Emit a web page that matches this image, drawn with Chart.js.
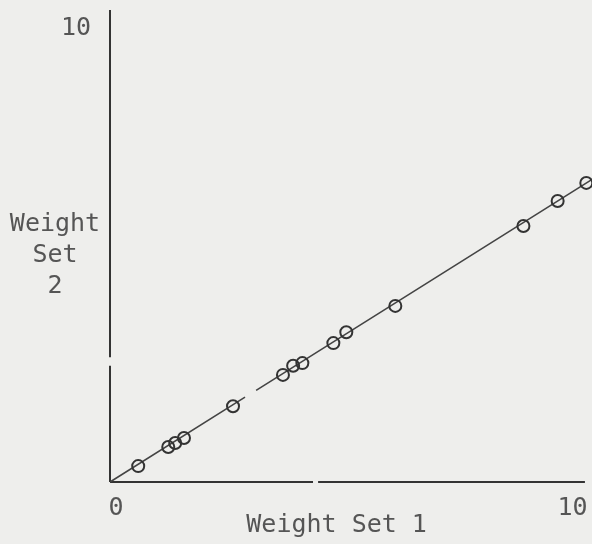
<!DOCTYPE html>
<html>
<head>
<meta charset="utf-8">
<script src="https://cdn.jsdelivr.net/npm/chart.js@4/dist/chart.umd.min.js"></script>
<style>
html,body{margin:0;padding:0;background:#eeeeec;}
#wrap{position:relative;width:592px;height:544px;}
</style>
</head>
<body>
<div id="wrap"><canvas id="c" width="592" height="544"></canvas></div>
<script>
// ---- data ----
const weightSet1 = [0.61, 1.26, 1.41, 1.60, 2.66, 3.74, 3.96, 4.16, 4.83, 5.11, 6.17, 8.94, 9.68, 10.30];
const weightSet2 = [0.35, 0.77, 0.86, 0.97, 1.67, 2.36, 2.56, 2.62, 3.06, 3.30, 3.88, 5.64, 6.19, 6.59];
// fitted line (with a break in the scanned print)
const lineX = [0, 2.92, null, 3.16, 10.40];
const lineY = [0, 1.87, null, 2.02, 6.65];
// axis lines (with the breaks seen in the scan)
const xAxisX = [0, 4.39, null, 4.50, 10.27];
const yAxisY = [0, 2.56, null, 2.75, 10.4];
const xTicks = [0, 10];
const yTicks = [10];
const xTitle = 'Weight Set 1';
const yTitleLines = ['Weight', 'Set', '2'];

const FONT = "'DejaVu Sans Mono', monospace";
const TXT = '#555555';
const INK = '#333333';

function pts(xs, ys) {
  return xs.map((x, i) => (x === null || ys[i] === null) ? {x: null, y: null} : {x: x, y: ys[i]});
}

// tick labels and axis titles drawn from the scales
const textPlugin = {
  id: 'texts',
  afterDraw(chart) {
    const ctx = chart.ctx;
    const xs = chart.scales.x, ys = chart.scales.y;
    ctx.save();
    ctx.fillStyle = TXT;
    ctx.font = '25px ' + FONT;
    ctx.textBaseline = 'middle';
    ctx.textAlign = 'center';
    xTicks.forEach(v => ctx.fillText(String(v), xs.getPixelForValue(v) + (v === 0 ? 6 : 0), ys.bottom + 26));
    ctx.textAlign = 'right';
    yTicks.forEach(v => ctx.fillText(String(v), xs.left - 19, ys.getPixelForValue(v)));
    ctx.textAlign = 'center';
    ctx.fillText(xTitle, xs.getPixelForValue(4.9), ys.bottom + 43);
    const cx = xs.left - 55;
    const cy = ys.getPixelForValue(5.0);
    yTitleLines.forEach((t, i) => ctx.fillText(t, cx, cy + (i - 1) * 31));
    ctx.restore();
  }
};

new Chart(document.getElementById('c'), {
  type: 'scatter',
  data: {
    datasets: [
      {
        label: 'points',
        data: pts(weightSet1, weightSet2),
        pointStyle: 'circle',
        pointRadius: 6,
        pointBorderWidth: 2,
        pointBorderColor: INK,
        pointBackgroundColor: 'rgba(0,0,0,0)',
        showLine: false,
        clip: false,
        order: 0
      },
      {
        label: 'fit',
        type: 'line',
        data: pts(lineX, lineY),
        borderColor: '#444',
        borderWidth: 1.6,
        pointRadius: 0,
        spanGaps: false,
        fill: false,
        clip: false,
        order: 1
      },
      {
        label: 'xaxis',
        type: 'line',
        data: pts(xAxisX, xAxisX.map(v => v === null ? null : 0)),
        borderColor: INK,
        borderWidth: 2,
        pointRadius: 0,
        spanGaps: false,
        clip: false,
        order: 2
      },
      {
        label: 'yaxis',
        type: 'line',
        data: pts(yAxisY.map(v => v === null ? null : 0), yAxisY),
        borderColor: INK,
        borderWidth: 2,
        pointRadius: 0,
        spanGaps: false,
        clip: false,
        order: 2
      }
    ]
  },
  options: {
    responsive: false,
    animation: false,
    layout: {padding: {left: 0, right: 0, top: 10, bottom: 0}},
    plugins: {legend: {display: false}, tooltip: {enabled: false}},
    scales: {
      x: {
        type: 'linear',
        min: 0, max: 10.25,
        grid: {display: false, drawTicks: false},
        border: {display: false},
        afterBuildTicks: s => { s.ticks = xTicks.map(v => ({value: v})); },
        afterFit: s => { s.height = 62; },
        ticks: {display: false}
      },
      y: {
        type: 'linear',
        min: 0, max: 10.4,
        grid: {display: false, drawTicks: false},
        border: {display: false},
        afterBuildTicks: s => { s.ticks = yTicks.map(v => ({value: v})); },
        afterFit: s => { s.width = 110; },
        ticks: {display: false}
      }
    }
  },
  plugins: [textPlugin]
});
</script>
</body>
</html>
